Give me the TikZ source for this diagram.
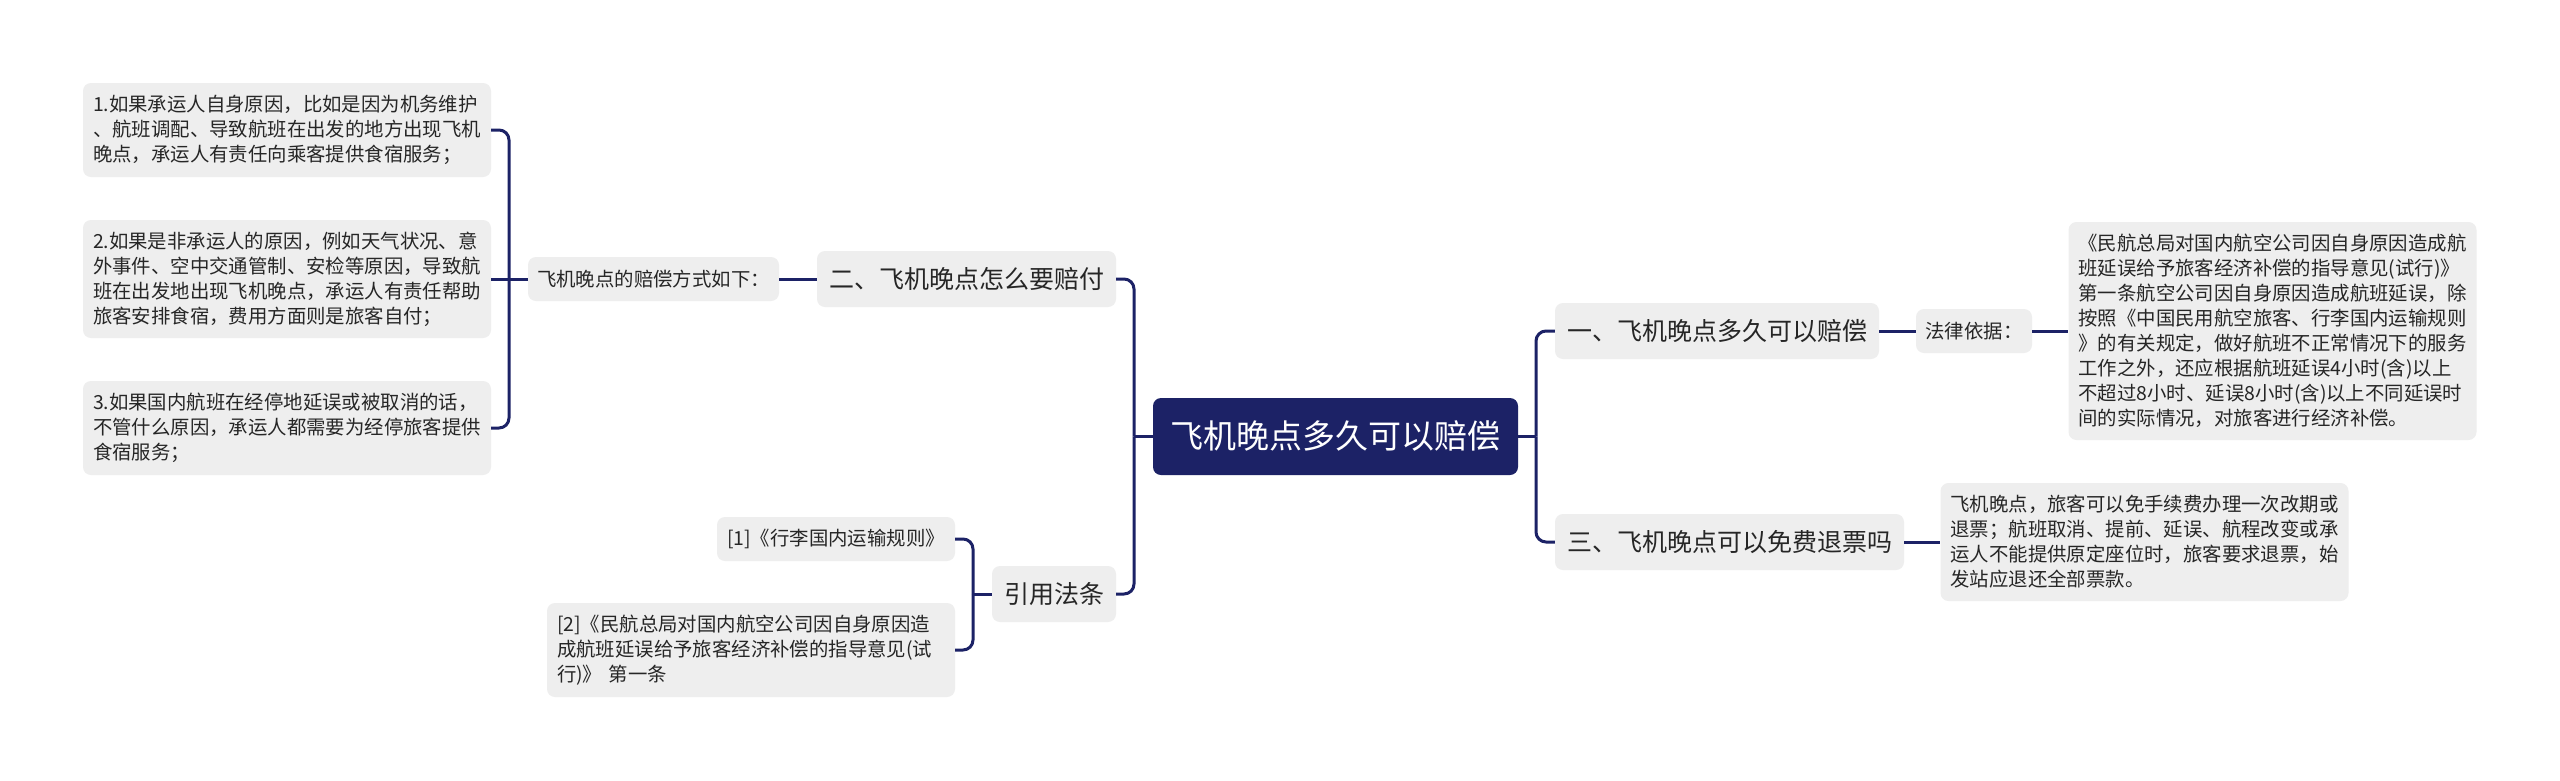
\documentclass[tikz,border=0pt]{standalone}
\usepackage{fontspec}
\setmainfont{Noto Sans CJK SC}
\definecolor{navy}{HTML}{1C2266}
\definecolor{boxgray}{HTML}{EEEEEE}
\definecolor{txtgray}{HTML}{262626}
\tikzset{
  box/.style={fill=boxgray, rounded corners=8pt, text=txtgray, inner sep=0pt, align=center},
  bigbox/.style={box, font=\fontsize{25}{30}\selectfont, minimum height=56pt},
  smallbox/.style={box, font=\fontsize{19.4}{25}\selectfont, minimum height=44pt},
  parabox/.style={box, font=\fontsize{19.4}{25}\selectfont, text width=388pt, inner xsep=10pt, align=left},
  rootbox/.style={fill=navy, rounded corners=8pt, text=white, inner sep=0pt, font=\fontsize{33}{40}\selectfont, minimum width=365pt, minimum height=77pt},
  conn/.style={draw=navy, line width=3pt, rounded corners=10pt},
}
\begin{document}
\begin{tikzpicture}[x=1pt,y=-1pt]
\fill[white] (0,0) rectangle (2560,780);
\useasboundingbox (0,0) rectangle (2560,780);

% root
\node[rootbox] (root) at (1335.5,436.5) {飞机晚点多久可以赔偿};

% left main branches
\node[bigbox, minimum width=299pt] (two) at (966.5,279) {二、飞机晚点怎么要赔付};
\node[bigbox, minimum width=124pt] (cite) at (1054,594) {引用法条};

% right main branches
\node[bigbox, minimum width=324pt] (one) at (1717,331) {一、飞机晚点多久可以赔偿};
\node[bigbox, minimum width=349pt] (three) at (1729.5,542) {三、飞机晚点可以免费退票吗};

% under two
\node[smallbox, minimum width=251pt] (comp) at (653.5,279) {飞机晚点的赔偿方式如下：};
\node[parabox, minimum height=94pt] (c1) at (287,130) {1.如果承运人自身原因，比如是因为机务维护\\、航班调配、导致航班在出发的地方出现飞机\\晚点，承运人有责任向乘客提供食宿服务；};
\node[parabox, minimum height=118pt] (c2) at (287,279) {2.如果是非承运人的原因，例如天气状况、意\\外事件、空中交通管制、安检等原因，导致航\\班在出发地出现飞机晚点，承运人有责任帮助\\旅客安排食宿，费用方面则是旅客自付；};
\node[parabox, minimum height=94pt] (c3) at (287,428) {3.如果国内航班在经停地延误或被取消的话，\\不管什么原因，承运人都需要为经停旅客提供\\食宿服务；};

% under cite
\node[smallbox, minimum width=238pt] (r1) at (836,539) {[1]《行李国内运输规则》};
\node[parabox, minimum height=94pt] (r2) at (751,650) {[2]《民航总局对国内航空公司因自身原因造\\成航班延误给予旅客经济补偿的指导意见(试\\行)》 第一条};

% under one
\node[smallbox, minimum width=116pt] (law) at (1974,331) {法律依据：};
\node[parabox, minimum height=218pt] (lawtext) at (2272.5,331) {《民航总局对国内航空公司因自身原因造成航\\班延误给予旅客经济补偿的指导意见(试行)》\\第一条航空公司因自身原因造成航班延误，除\\按照《中国民用航空旅客、行李国内运输规则\\》的有关规定，做好航班不正常情况下的服务\\工作之外，还应根据航班延误4小时(含)以上\\不超过8小时、延误8小时(含)以上不同延误时\\间的实际情况，对旅客进行经济补偿。};

% under three
\node[parabox, minimum height=118pt] (ans) at (2144.5,542) {飞机晚点，旅客可以免手续费办理一次改期或\\退票；航班取消、提前、延误、航程改变或承\\运人不能提供原定座位时，旅客要求退票，始\\发站应退还全部票款。};

% junctions
\coordinate (jR) at (1536,436.5);
\coordinate (jL) at (1134,436.5);
\coordinate (jC) at (509,279);
\coordinate (jF) at (973,594);

% connectors right of root
\draw[conn] (root.east) -- (jR);
\draw[conn] (one.west) -| (jR);
\draw[conn] (three.west) -| (jR);
\draw[conn] (one.east) -- (law.west);
\draw[conn] (law.east) -- (lawtext.west);
\draw[conn] (three.east) -- (ans.west);

% connectors left of root
\draw[conn] (root.west) -- (jL);
\draw[conn] (two.east) -| (jL);
\draw[conn] (cite.east) -| (jL);
\draw[conn] (two.west) -- (comp.east);
\draw[conn] (comp.west) -- (jC);
\draw[conn] (c1.east) -| (jC);
\draw[conn] (c2.east) -- (jC);
\draw[conn] (c3.east) -| (jC);
\draw[conn] (cite.west) -- (jF);
\draw[conn] (r1.east) -| (jF);
\draw[conn] (r2.east) -| (jF);
\end{tikzpicture}
\end{document}
